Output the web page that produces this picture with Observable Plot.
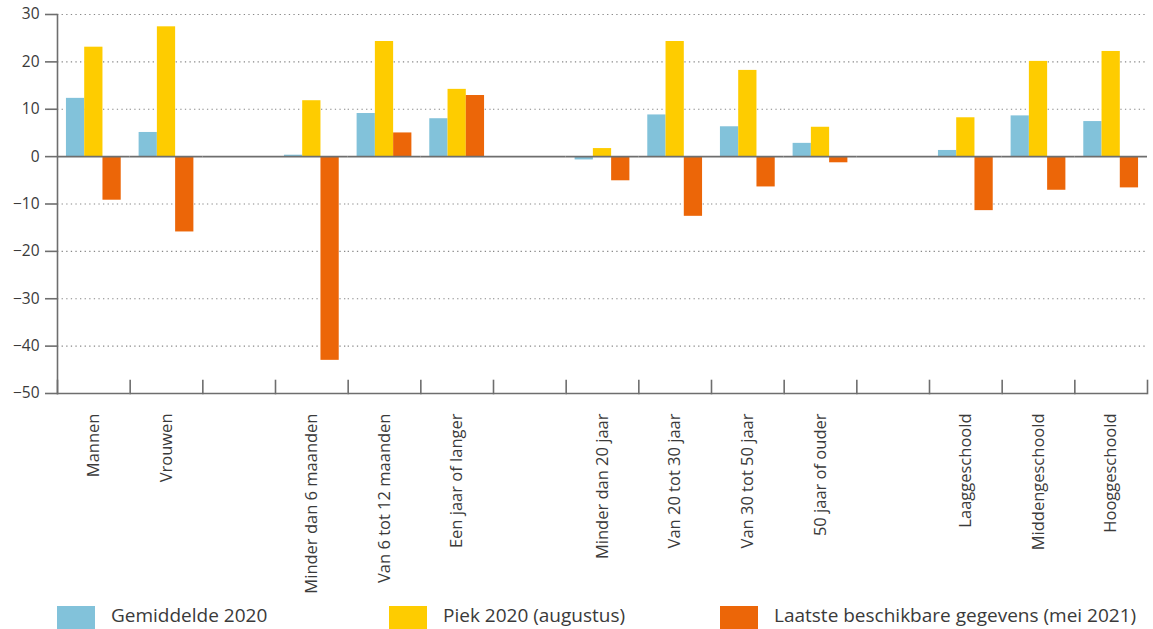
<!DOCTYPE html>
<html>
<head>
<meta charset="utf-8">
<script src="https://cdn.jsdelivr.net/npm/d3@7"></script>
<script src="https://cdn.jsdelivr.net/npm/@observablehq/plot@0.6"></script>
<style>
  body { margin: 0; background: #fff; font-family: "Open Sans", sans-serif; color: #3a3a3a; }
  #chart { position: relative; width: 1153px; height: 600px; }
  #legend { position: relative; width: 1153px; height: 29px; }
  .item { position: absolute; top: 3px; display: flex; align-items: flex-start; font-size: 19px; line-height: 24px; color: #3a3a3a; white-space: nowrap; }
  .sw { width: 38px; height: 23px; margin-top: 3px; margin-right: 16px; }
</style>
</head>
<body>
<div id="chart"></div>
<div id="legend"></div>
<script>
const categories = ["Mannen", "Vrouwen", " ", "Minder dan 6 maanden", "Van 6 tot 12 maanden", "Een jaar of langer", "  ", "Minder dan 20 jaar", "Van 20 tot 30 jaar", "Van 30 tot 50 jaar", "50 jaar of ouder", "   ", "Laaggeschoold", "Middengeschoold", "Hooggeschoold"];
const seriesNames = ["Gemiddelde 2020", "Piek 2020 (augustus)", "Laatste beschikbare gegevens (mei 2021)"];
const gemiddelde2020 = [12.3, 5.1, null, 0.3, 9.1, 8.0, null, -0.7, 8.8, 6.3, 2.8, null, 1.3, 8.6, 7.4];
const piek2020 = [23.1, 27.4, null, 11.8, 24.3, 14.2, null, 1.7, 24.3, 18.2, 6.2, null, 8.2, 20.1, 22.2];
const laatste = [-9.2, -15.9, null, -43.0, 5.0, 12.9, null, -5.1, -12.6, -6.4, -1.3, null, -11.4, -7.1, -6.6];
const yTicks = [30, 20, 10, 0, -10, -20, -30, -40, -50];
const gridTicks = [30, 20, 10, -10, -20, -30, -40];
const colors = ["#82c2da", "#fecc00", "#ec6608"];

const seriesValues = [gemiddelde2020, piek2020, laatste];
const data = [];
categories.forEach((c, i) => {
  seriesNames.forEach((s, j) => data.push({cat: c, series: s, value: seriesValues[j][i]}));
});

const W = 1153, H = 600, mt = 14, mb = 207, ml = 57, mr = 6;
const tickLen = 13;
const axisColor = "#6e6e6e";

const chart = Plot.plot({
  width: W, height: H,
  marginTop: mt, marginBottom: mb, marginLeft: ml, marginRight: mr,
  style: {fontFamily: "Open Sans, sans-serif", color: "#3a3a3a", background: "#fff"},
  fx: {domain: categories, padding: 0, round: false, axis: null},
  x: {domain: seriesNames, paddingInner: 0, paddingOuter: 0.49, round: false, axis: null},
  y: {domain: [-50, 30]},
  color: {domain: seriesNames, range: colors},
  marks: [
    Plot.gridY({ticks: gridTicks, stroke: "#888", strokeOpacity: 1, strokeWidth: 1.2, strokeDasharray: "1.3,3.3"}),
    Plot.barY(data, {fx: "cat", x: "series", y: "value", fill: "series"}),
    Plot.ruleY([0], {stroke: axisColor, strokeWidth: 1.6}),
    Plot.ruleY([-50], {stroke: axisColor, strokeWidth: 1.6}),
    Plot.frame({anchor: "left", facetAnchor: "left", stroke: axisColor, strokeWidth: 1.6}),
    Plot.frame({anchor: "left", insetTop: H - mt - mb - tickLen, stroke: axisColor, strokeWidth: 1.6}),
    Plot.frame({anchor: "right", facetAnchor: "right", insetTop: H - mt - mb - tickLen, stroke: axisColor, strokeWidth: 1.6}),
    Plot.axisY({ticks: yTicks, tickSize: 12, tickPadding: 6, fontSize: 15.5, label: null, stroke: axisColor, strokeWidth: 1.6, tickFormat: d => d3.format("")(d).replace("-", "\u2212")}),
    Plot.axisFx({anchor: "bottom", tickSize: 0, tickPadding: 20, tickRotate: -90, fontSize: 16.5, label: null})
  ]
});
document.getElementById("chart").appendChild(chart);

const legendLeft = [57, 389, 720];
const legend = document.getElementById("legend");
seriesNames.forEach((s, i) => {
  const it = document.createElement("div");
  it.className = "item";
  it.style.left = legendLeft[i] + "px";
  it.innerHTML = `<div class="sw" style="background:${colors[i]}"></div><span>${s}</span>`;
  legend.appendChild(it);
});
</script>
</body>
</html>
